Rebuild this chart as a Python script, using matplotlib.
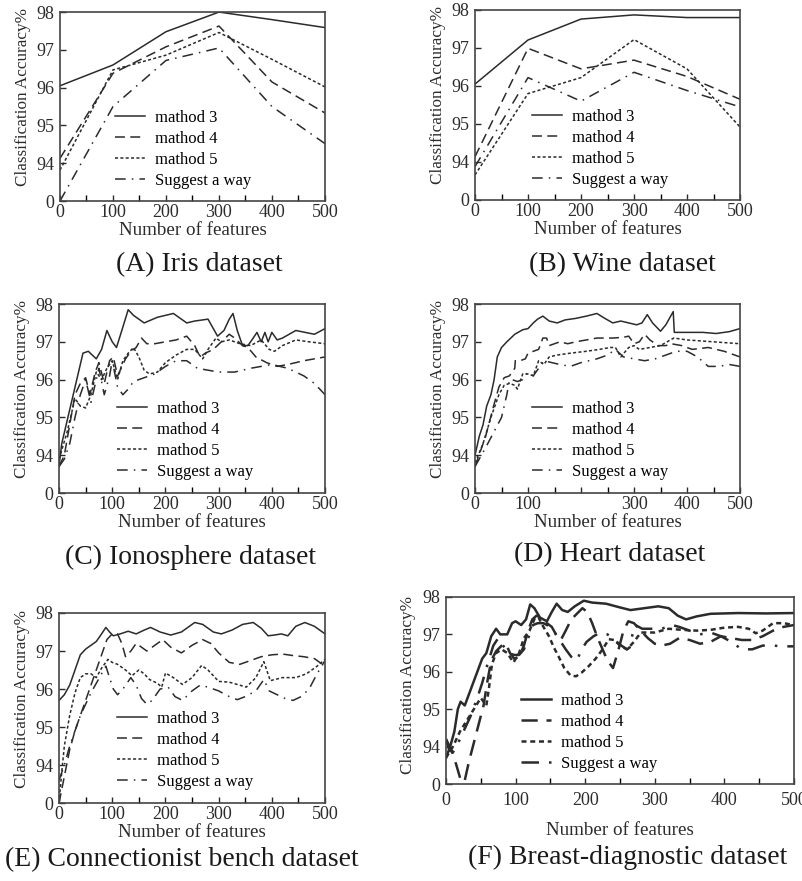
import matplotlib
matplotlib.use("Agg")
import matplotlib.pyplot as plt

plt.rcParams["font.family"] = ["Liberation Serif", "DejaVu Serif"]

series_names = ["mathod 3", "mathod 4", "mathod 5", "Suggest a way"]
ytick_vals = [93, 94, 95, 96, 97, 98]   # the axis is broken: bottom tick reads 0
ytick_text = ["0", "94", "95", "96", "97", "98"]
xtick_vals = [0, 100, 200, 300, 400, 500]

# (A) Iris
iris_x = [0, 100, 200, 300, 400, 500]
iris_m3 = [96.05, 96.6, 97.48, 98.0, 97.8, 97.59]
iris_m4 = [94.13, 96.38, 97.08, 97.63, 96.15, 95.33]
iris_m5 = [93.82, 96.47, 96.86, 97.46, 96.75, 96.02]
iris_sw = [93.0, 95.5, 96.72, 97.05, 95.5, 94.52]

# (B) Wine
wine_x = [0, 100, 200, 300, 400, 500]
wine_m3 = [96.05, 97.21, 97.76, 97.87, 97.8, 97.8]
wine_m4 = [94.14, 96.99, 96.45, 96.68, 96.25, 95.65]
wine_m5 = [93.66, 95.8, 96.22, 97.22, 96.45, 94.92]
wine_sw = [93.88, 96.22, 95.6, 96.36, 95.88, 95.45]

# (C) Ionosphere
iono_m3_x = [0, 5, 15, 25, 35, 45, 55, 70, 80, 90, 100, 108, 118, 130, 140, 160, 185, 215, 240, 255,
             280, 290, 298, 310, 320, 327, 335, 345, 355, 365, 372, 380, 387, 393, 400, 410, 420, 445, 480, 500]
iono_m3 = [93.7, 94.3, 94.9, 95.5, 96.1, 96.7, 96.75, 96.55, 96.8, 97.3, 97.0, 96.85, 97.3, 97.85, 97.7,
           97.5, 97.65, 97.75, 97.5, 97.55, 97.6, 97.35, 97.15, 97.3, 97.6, 97.75, 97.3, 96.9, 96.9, 97.1,
           97.25, 97.0, 97.25, 97.0, 97.25, 97.05, 97.1, 97.3, 97.2, 97.35]
iono_m4_x = [0, 10, 20, 30, 40, 50, 58, 68, 75, 85, 95, 102, 110, 125, 135, 145, 155, 165, 180, 200,
             220, 240, 255, 265, 275, 290, 305, 320, 330, 345, 355, 370, 390, 410, 430, 460, 500]
iono_m4 = [93.7, 94.0, 94.8, 95.6, 95.9, 96.05, 95.6, 96.2, 96.45, 95.9, 96.5, 96.6, 96.1, 96.55, 96.75,
           96.85, 97.1, 96.95, 96.95, 97.0, 97.05, 97.15, 96.9, 96.6, 96.7, 96.8, 97.0, 97.2, 97.1, 96.9,
           96.85, 96.6, 96.45, 96.35, 96.4, 96.5, 96.6]
iono_m5_x = [0, 15, 30, 40, 50, 60, 70, 80, 90, 100, 110, 120, 130, 140, 150, 160, 170, 185, 200, 220,
             240, 255, 270, 280, 295, 305, 320, 340, 360, 380, 395, 405, 420, 445, 470, 500]
iono_m5 = [93.9, 94.6, 95.5, 95.3, 95.25, 95.6, 96.2, 96.0, 96.3, 96.5, 96.0, 96.5, 96.7, 96.85, 96.6,
           96.25, 96.15, 96.2, 96.45, 96.65, 96.8, 96.8, 96.55, 96.8, 97.1, 97.0, 97.05, 96.95, 96.9,
           97.05, 96.8, 96.75, 96.9, 97.05, 97.0, 96.95]
iono_sw_x = [0, 10, 20, 30, 40, 50, 60, 75, 85, 95, 100, 110, 120, 130, 140, 160, 180, 200, 220, 240,
             260, 280, 300, 330, 360, 400, 430, 460, 480, 500]
iono_sw = [93.7, 93.9, 94.3, 95.0, 95.6, 96.0, 95.4, 96.3, 95.6, 96.1, 96.5, 95.8, 95.6, 95.75, 95.95,
           96.05, 96.15, 96.35, 96.5, 96.5, 96.3, 96.25, 96.2, 96.2, 96.3, 96.4, 96.3, 96.1, 95.9, 95.6]

# (D) Heart
heart_m3_x = [0, 8, 15, 22, 30, 36, 42, 50, 60, 75, 90, 100, 110, 118, 128, 140, 155, 170, 190, 210,
              230, 245, 260, 275, 290, 305, 315, 325, 335, 350, 360, 374, 376, 400, 430, 455, 480, 500]
heart_m3 = [94.0, 94.5, 94.8, 95.3, 95.6, 96.0, 96.6, 96.85, 97.0, 97.2, 97.32, 97.35, 97.5, 97.6, 97.68,
            97.55, 97.5, 97.58, 97.62, 97.68, 97.75, 97.62, 97.5, 97.55, 97.5, 97.45, 97.5, 97.72, 97.5,
            97.28, 97.45, 97.8, 97.25, 97.25, 97.25, 97.22, 97.27, 97.35]
heart_m4_x = [0, 20, 35, 45, 55, 65, 75, 76, 85, 95, 100, 110, 120, 128, 135, 140, 150, 160, 175, 190,
              210, 230, 260, 280, 290, 300, 310, 320, 330, 345, 360, 370, 390, 410, 440, 470, 500]
heart_m4 = [93.7, 94.5, 95.3, 95.8, 96.05, 96.1, 96.3, 96.5, 96.5, 96.55, 96.7, 96.75, 96.8, 97.1, 97.1,
            96.9, 96.95, 97.0, 96.95, 97.0, 97.05, 97.1, 97.1, 97.12, 97.15, 96.95, 97.0, 97.2, 97.05,
            96.9, 96.9, 96.95, 96.9, 96.8, 96.85, 96.75, 96.6]
heart_m5_x = [0, 15, 30, 45, 55, 65, 75, 80, 90, 100, 110, 115, 120, 130, 140, 155, 180, 210, 235, 255,
              265, 275, 290, 300, 310, 330, 350, 375, 400, 450, 500]
heart_m5 = [93.8, 94.3, 95.0, 95.6, 95.85, 95.9, 95.85, 95.75, 96.15, 96.15, 96.1, 96.3, 96.5, 96.4, 96.6,
            96.65, 96.7, 96.75, 96.8, 96.85, 96.85, 96.6, 96.85, 96.9, 96.8, 96.85, 96.9, 97.1, 97.05,
            97.0, 96.95]
heart_sw_x = [0, 20, 35, 50, 60, 65, 70, 80, 90, 100, 110, 120, 130, 145, 160, 180, 200, 230, 250, 265,
              280, 300, 320, 340, 360, 380, 400, 420, 440, 460, 480, 500]
heart_sw = [93.7, 94.2, 94.6, 95.0, 95.6, 96.0, 96.0, 95.95, 96.0, 96.2, 96.1, 96.3, 96.5, 96.45, 96.4,
            96.35, 96.45, 96.55, 96.65, 96.8, 96.6, 96.55, 96.5, 96.55, 96.65, 96.75, 96.75, 96.6, 96.35,
            96.35, 96.4, 96.35]

# (E) Connectionist bench
conn_m3_x = [0, 10, 20, 30, 40, 50, 60, 70, 80, 88, 95, 102, 115, 130, 145, 160, 172, 190, 210, 230,
             255, 270, 290, 305, 325, 345, 365, 380, 393, 405, 418, 430, 445, 462, 480, 500]
conn_m3 = [95.7, 95.85, 96.1, 96.5, 96.9, 97.05, 97.15, 97.25, 97.45, 97.62, 97.5, 97.4, 97.45, 97.52,
           97.45, 97.55, 97.62, 97.5, 97.42, 97.5, 97.75, 97.7, 97.5, 97.45, 97.55, 97.7, 97.75, 97.6,
           97.4, 97.42, 97.45, 97.4, 97.65, 97.75, 97.65, 97.45]
conn_m4_x = [0, 10, 20, 30, 40, 50, 60, 70, 80, 90, 100, 110, 118, 125, 135, 145, 155, 165, 180, 195,
             210, 230, 250, 270, 285, 300, 320, 340, 360, 380, 400, 420, 440, 460, 480, 500]
conn_m4 = [93.0, 93.7, 94.4, 94.9, 95.3, 95.7, 96.1, 96.5, 96.9, 97.3, 97.45, 97.45, 97.2, 96.85, 97.0,
           97.2, 97.1, 97.0, 97.15, 97.3, 97.1, 96.95, 97.15, 97.3, 97.2, 96.95, 96.7, 96.65, 96.75,
           96.85, 96.9, 96.92, 96.88, 96.85, 96.8, 96.6]
conn_m5_x = [0, 5, 10, 20, 30, 40, 50, 60, 70, 80, 92, 100, 110, 125, 137, 150, 160, 170, 185, 193,
             200, 215, 232, 250, 268, 280, 300, 320, 340, 352, 370, 385, 397, 420, 445, 465, 485, 500]
conn_m5 = [93.0, 93.8, 94.5, 95.3, 95.9, 96.3, 96.4, 96.4, 96.3, 96.55, 96.78, 96.7, 96.65, 96.5, 96.35,
           96.5, 96.4, 96.25, 96.15, 96.05, 96.42, 96.3, 96.12, 96.3, 96.62, 96.5, 96.2, 96.18, 96.1,
           96.05, 96.3, 96.72, 96.22, 96.3, 96.3, 96.4, 96.6, 96.78]
conn_sw_x = [0, 10, 20, 30, 40, 50, 60, 70, 80, 88, 95, 102, 110, 120, 135, 145, 155, 165, 175, 190,
             205, 218, 232, 250, 265, 280, 300, 320, 335, 350, 370, 385, 395, 410, 425, 440, 455, 470,
             485, 500]
conn_sw = [93.6, 94.0, 94.5, 94.9, 95.3, 95.6, 95.9, 96.15, 96.4, 96.6, 96.3, 96.0, 95.85, 96.0, 96.3,
           96.1, 95.75, 95.6, 95.7, 96.0, 96.05, 95.8, 95.7, 95.95, 96.1, 96.05, 95.95, 95.8, 95.72, 95.8,
           95.95, 96.25, 95.95, 95.85, 95.75, 95.7, 95.8, 96.0, 96.4, 96.75]

# (F) Breast-diagnostic
breast_m3_x = [0, 6, 12, 17, 21, 27, 35, 45, 52, 58, 65, 72, 78, 88, 95, 100, 108, 115, 121, 127, 135,
               145, 152, 159, 167, 175, 185, 198, 210, 230, 250, 265, 285, 305, 320, 333, 345, 360,
               380, 420, 460, 500]
breast_m3 = [93.7, 94.0, 94.4, 95.0, 95.2, 95.1, 95.5, 96.0, 96.35, 96.5, 96.95, 97.15, 97.0, 97.0, 97.3,
             97.35, 97.25, 97.4, 97.8, 97.7, 97.45, 97.35, 97.6, 97.82, 97.65, 97.6, 97.75, 97.9, 97.85,
             97.82, 97.72, 97.65, 97.7, 97.75, 97.7, 97.5, 97.4, 97.48, 97.55, 97.57, 97.56, 97.57]
breast_m4_x = [0, 8, 15, 22, 27, 33, 40, 47, 54, 60, 65, 72, 80, 86, 92, 98, 105, 112, 118, 124, 130,
               136, 145, 152, 158, 165, 172, 180, 188, 196, 203, 210, 218, 225, 232, 240, 248, 255, 262,
               270, 280, 290, 300, 310, 322, 335, 350, 365, 380, 395, 410, 425, 440, 455, 470, 485, 500]
breast_m4 = [94.2, 93.9, 93.5, 93.05, 93.1, 93.6, 94.1, 94.6, 95.1, 95.8, 96.3, 96.55, 96.7, 96.75, 96.5,
             96.35, 96.4, 96.7, 97.1, 97.4, 97.5, 97.45, 97.3, 97.2, 97.0, 96.85, 97.1, 97.4, 97.55, 97.7,
             97.6, 97.3, 96.9, 96.6, 96.3, 96.1, 96.6, 97.1, 97.35, 97.3, 97.1, 96.9, 96.75, 96.7, 96.75,
             96.9, 96.85, 96.75, 96.8, 96.95, 96.9, 96.85, 96.85, 96.95, 97.1, 97.2, 97.25]
breast_m5_x = [0, 10, 20, 30, 40, 50, 58, 62, 66, 72, 80, 88, 97, 105, 112, 120, 128, 133, 140, 148,
               155, 162, 170, 179, 187, 195, 205, 215, 225, 234, 242, 250, 260, 270, 280, 300, 320, 340,
               360, 380, 400, 420, 435, 445, 455, 470, 485, 500]
breast_m5 = [93.7, 94.0, 94.4, 94.7, 95.0, 95.3, 95.1, 95.6, 96.2, 96.5, 96.6, 96.5, 96.25, 96.5, 96.9,
             97.1, 97.45, 97.45, 97.2, 96.95, 96.65, 96.4, 96.1, 95.9, 95.88, 95.98, 96.15, 96.35, 96.6,
             96.87, 96.85, 96.7, 96.6, 96.8, 97.05, 97.05, 97.15, 97.12, 97.1, 97.12, 97.18, 97.2, 97.15,
             97.03, 97.1, 97.3, 97.3, 97.25]
breast_sw_x = [0, 5, 10, 15, 25, 35, 45, 52, 58, 63, 68, 75, 82, 90, 98, 105, 112, 118, 125, 132, 140,
               150, 158, 165, 172, 180, 188, 195, 202, 212, 222, 232, 242, 252, 260, 264, 268, 272, 282,
               295, 310, 325, 335, 350, 365, 380, 395, 410, 425, 440, 455, 470, 485, 500]
breast_sw = [94.2, 93.9, 93.85, 94.0, 94.4, 94.8, 95.3, 95.7, 96.1, 96.4, 96.7, 96.9, 96.7, 96.5, 96.45,
             96.45, 96.6, 96.9, 97.25, 97.3, 97.3, 97.2, 97.0, 96.8, 96.6, 96.4, 96.3, 96.6, 96.8, 96.95,
             97.05, 97.0, 96.85, 96.7, 96.6, 96.65, 97.0, 97.25, 97.15, 97.15, 97.15, 97.25, 97.2, 97.1,
             97.0, 97.05, 96.95, 96.8, 96.6, 96.6, 96.7, 96.7, 96.68, 96.68]

line_styles = ["-", (0, (6.5, 3.5)), (0, (2, 1.5)), (0, (7, 4, 1, 4))]
ink = "#2b2b2b"


def draw_panel(ax, curves, lw, title, title_xy, legend_xy, xlabels=None, tickpad=2, labelpad=1,
               ylabel_xy=(-0.11, 0.55)):
    for (xs, ys), ls, name in zip(curves, line_styles, series_names):
        ax.plot(xs, ys, color=ink, linestyle=ls, linewidth=lw, label=name)
    ax.set_xlim(0, 500)
    ax.set_ylim(93, 98)
    ax.set_yticks(ytick_vals)
    ax.set_yticklabels(ytick_text)
    ax.set_xticks(xtick_vals)
    ax.set_xticklabels(xlabels if xlabels else [str(v) for v in xtick_vals])
    ax.set_xticks(range(50, 500, 100), minor=True)
    ax.tick_params(direction="in", length=4, width=1, labelsize=13, colors=ink)
    ax.tick_params(axis="x", pad=tickpad)
    ax.tick_params(axis="y", pad=4)
    ax.tick_params(which="minor", direction="in", length=4, width=1)
    for s in ax.spines.values():
        s.set_linewidth(1.2)
        s.set_color("#444444")
    ax.set_xlabel("Number of features", fontsize=13.7, color=ink, labelpad=labelpad)
    ax.set_ylabel("Classification Accuracy%", fontsize=12.3, color=ink)
    ax.yaxis.set_label_coords(*ylabel_xy)
    ax.legend(loc="lower left", bbox_to_anchor=legend_xy, frameon=False, fontsize=12,
              handlelength=1.8, handletextpad=0.6, labelspacing=0.3, borderpad=0.1,
              borderaxespad=0)
    fig.text(title_xy[0], title_xy[1], title, fontsize=20, color="#1a1a1a",
             ha="center", va="center")


fig = plt.figure(figsize=(8.02, 8.81), dpi=100)

ax_a = fig.add_axes([0.0748, 0.7718, 0.3304, 0.2145])
draw_panel(ax_a, [(iris_x, iris_m3), (iris_x, iris_m4), (iris_x, iris_m5), (iris_x, iris_sw)],
           1.1, "(A) Iris dataset", (0.248, 1 - 265 / 881), (0.2, 0.055))

ax_b = fig.add_axes([0.5923, 0.7730, 0.3304, 0.2157])
draw_panel(ax_b, [(wine_x, wine_m3), (wine_x, wine_m4), (wine_x, wine_m5), (wine_x, wine_sw)],
           1.1, "(B) Wine dataset", (0.776, 1 - 265 / 881), (0.21, 0.055))

ax_c = fig.add_axes([0.0736, 0.4404, 0.3317, 0.2145])
draw_panel(ax_c, [(iono_m3_x, iono_m3), (iono_m4_x, iono_m4), (iono_m5_x, iono_m5), (iono_sw_x, iono_sw)],
           1.1, "(C) Ionosphere dataset", (0.237, 1 - 557 / 881), (0.21, 0.06))

ax_d = fig.add_axes([0.5923, 0.4404, 0.3304, 0.2145])
draw_panel(ax_d, [(heart_m3_x, heart_m3), (heart_m4_x, heart_m4), (heart_m5_x, heart_m5), (heart_sw_x, heart_sw)],
           1.1, "(D) Heart dataset", (0.760, 1 - 555 / 881), (0.21, 0.06),
           xlabels=["0", "100", "", "300", "400", "500"])

ax_e = fig.add_axes([0.0736, 0.0885, 0.3317, 0.2157])
draw_panel(ax_e, [(conn_m3_x, conn_m3), (conn_m4_x, conn_m4), (conn_m5_x, conn_m5), (conn_sw_x, conn_sw)],
           1.1, "(E) Connectionist bench dataset", (0.227, 1 - 860 / 881), (0.21, 0.06))

ax_f = fig.add_axes([0.5561, 0.1101, 0.4339, 0.2123])
draw_panel(ax_f, [(breast_m3_x, breast_m3), (breast_m4_x, breast_m4), (breast_m5_x, breast_m5), (breast_sw_x, breast_sw)],
           1.8, "(F) Breast-diagnostic dataset", (0.783, 1 - 857 / 881), (0.21, 0.055),
           tickpad=6, labelpad=9, ylabel_xy=(-0.085, 0.53))

plt.savefig("out.png", dpi=100)
plt.close()
